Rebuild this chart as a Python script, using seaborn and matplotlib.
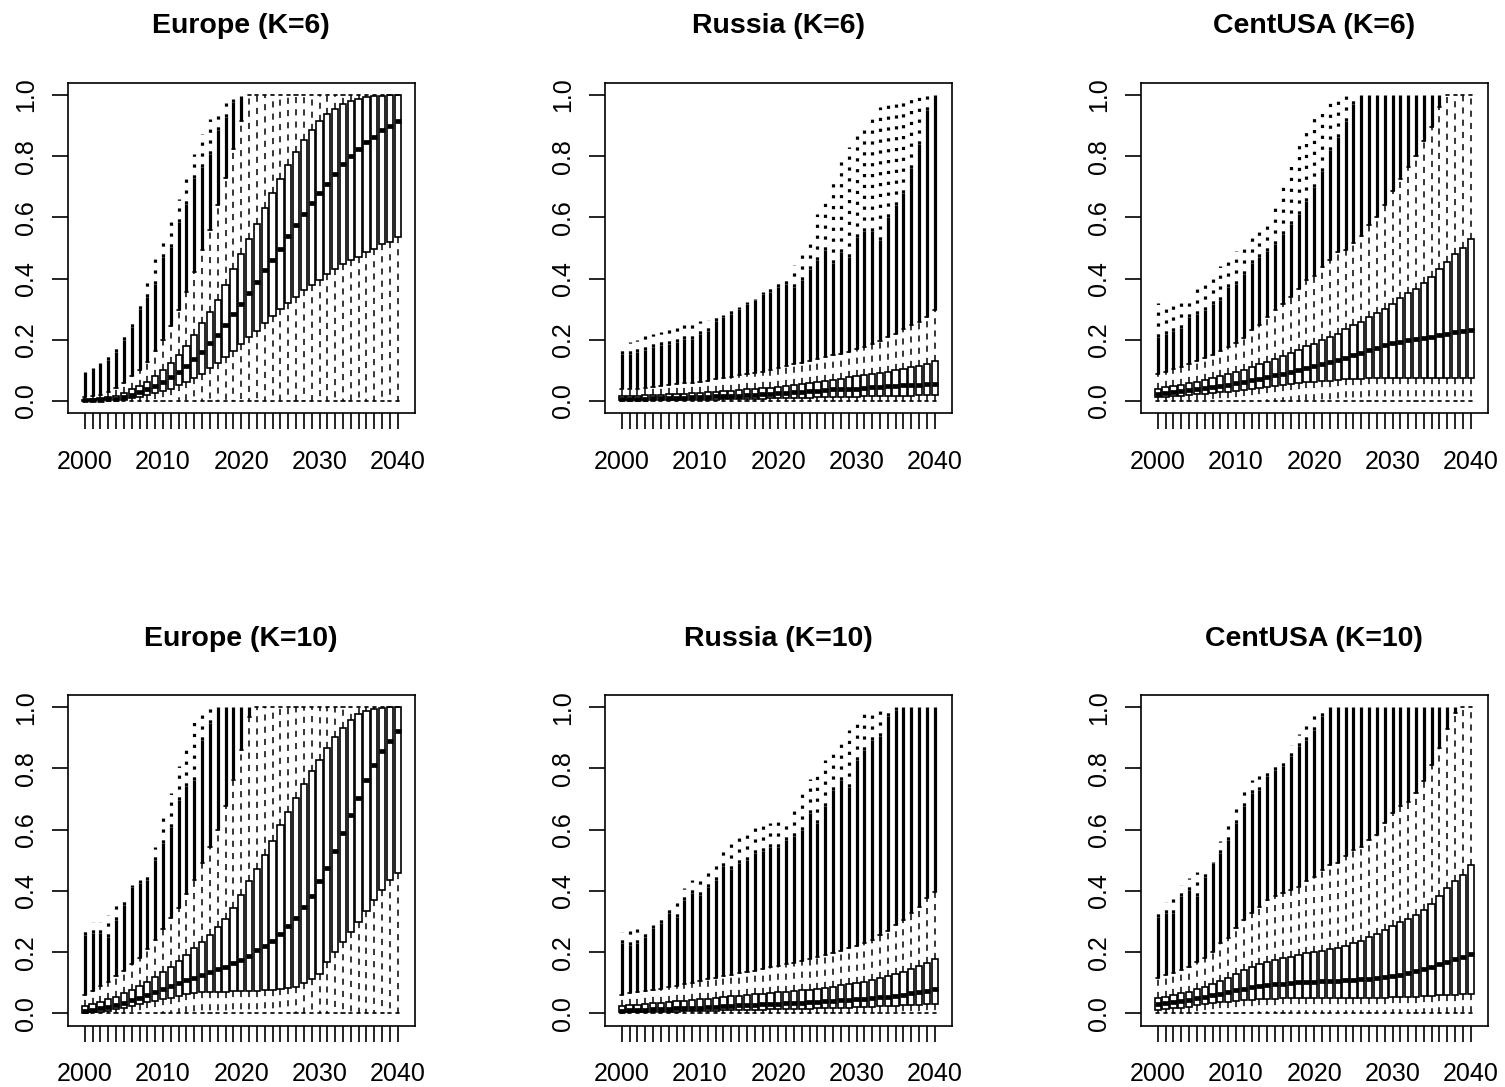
import numpy as np
import pandas as pd
import matplotlib
matplotlib.use("Agg")
import matplotlib.pyplot as plt
import seaborn as sns

# ---------------- categories ----------------
years = list(range(2000, 2041))
year_labels = [str(y) for y in years]
tick_labels = [s if int(s) % 10 == 0 else "" for s in year_labels]
y_ticks = [0.0, 0.2, 0.4, 0.6, 0.8, 1.0]
y_tick_labels = ["0.0", "0.2", "0.4", "0.6", "0.8", "1.0"]
titles = ["Europe (K=6)", "Russia (K=6)", "CentUSA (K=6)",
          "Europe (K=10)", "Russia (K=10)", "CentUSA (K=10)"]

# lower whisker (all at 0)
whisker_lo = [0.0, 0.0, 0.0, 0.0, 0.0, 0.0, 0.0, 0.0, 0.0, 0.0, 0.0, 0.0, 0.0, 0.0,
              0.0, 0.0, 0.0, 0.0, 0.0, 0.0, 0.0, 0.0, 0.0, 0.0, 0.0, 0.0, 0.0, 0.0,
              0.0, 0.0, 0.0, 0.0, 0.0, 0.0, 0.0, 0.0, 0.0, 0.0, 0.0, 0.0, 0.0]

# ---------------- Europe K=6 ----------------
eu6_q1 = [0.000, 0.001, 0.002, 0.003, 0.004, 0.005, 0.009, 0.014, 0.020, 0.027, 0.034, 0.041, 0.052, 0.063,
          0.075, 0.090, 0.109, 0.125, 0.145, 0.164, 0.188, 0.210, 0.230, 0.255, 0.277, 0.300, 0.320, 0.340,
          0.362, 0.378, 0.397, 0.416, 0.433, 0.449, 0.460, 0.470, 0.487, 0.498, 0.514, 0.520, 0.535]
eu6_med = [0.002, 0.003, 0.004, 0.006, 0.008, 0.012, 0.019, 0.028, 0.038, 0.049, 0.063, 0.079, 0.096, 0.114,
           0.137, 0.161, 0.189, 0.215, 0.248, 0.283, 0.318, 0.353, 0.389, 0.427, 0.462, 0.498, 0.539, 0.574,
           0.612, 0.647, 0.679, 0.710, 0.742, 0.773, 0.800, 0.824, 0.846, 0.864, 0.884, 0.900, 0.916]
eu6_q3 = [0.005, 0.007, 0.009, 0.013, 0.018, 0.027, 0.038, 0.049, 0.063, 0.082, 0.100, 0.123, 0.150, 0.180,
          0.215, 0.254, 0.292, 0.330, 0.380, 0.430, 0.480, 0.530, 0.580, 0.630, 0.680, 0.725, 0.772, 0.815,
          0.853, 0.886, 0.914, 0.938, 0.954, 0.970, 0.979, 0.987, 0.992, 0.997, 0.998, 0.999, 1.000]
eu6_whi = [0.012, 0.016, 0.021, 0.030, 0.042, 0.060, 0.082, 0.102, 0.128, 0.165, 0.200, 0.245, 0.297, 0.357,
           0.422, 0.492, 0.560, 0.640, 0.730, 0.824, 0.916, 1.000, 1.000, 1.000, 1.000, 1.000, 1.000, 1.000,
           1.000, 1.000, 1.000, 1.000, 1.000, 1.000, 1.000, 1.000, 1.000, 1.000, 1.000, 1.000, 1.000]
eu6_dense = [0.096, 0.107, 0.123, 0.134, 0.160, 0.200, 0.242, 0.300, 0.340, 0.384, 0.470, 0.503, 0.585, 0.645,
             0.730, 0.764, 0.808, 0.884, 0.927, 0.976, 0.998, 1.000, 1.000, 1.000, 1.000, 1.000, 1.000, 1.000,
             1.000, 1.000, 1.000, 1.000, 1.000, 1.000, 1.000, 1.000, 1.000, 1.000, 1.000, 1.000, 1.000]
eu6_max = [0.096, 0.107, 0.123, 0.155, 0.183, 0.220, 0.273, 0.331, 0.400, 0.470, 0.536, 0.596, 0.660, 0.726,
           0.808, 0.873, 0.922, 0.954, 0.973, 0.987, 0.998, 1.000, 1.000, 1.000, 1.000, 1.000, 1.000, 1.000,
           1.000, 1.000, 1.000, 1.000, 1.000, 1.000, 1.000, 1.000, 1.000, 1.000, 1.000, 1.000, 1.000]

# ---------------- Russia K=6 ----------------
ru6_q1 = [0.002, 0.002, 0.002, 0.003, 0.003, 0.003, 0.003, 0.004, 0.004, 0.004, 0.005, 0.005, 0.005, 0.006,
          0.006, 0.007, 0.007, 0.008, 0.008, 0.009, 0.009, 0.010, 0.010, 0.011, 0.011, 0.012, 0.012, 0.013,
          0.013, 0.014, 0.014, 0.015, 0.015, 0.016, 0.016, 0.017, 0.017, 0.018, 0.019, 0.019, 0.020]
ru6_med = [0.007, 0.007, 0.008, 0.008, 0.009, 0.009, 0.010, 0.010, 0.011, 0.012, 0.013, 0.014, 0.015, 0.016,
           0.017, 0.018, 0.019, 0.020, 0.022, 0.024, 0.026, 0.027, 0.029, 0.031, 0.032, 0.034, 0.036, 0.038,
           0.039, 0.040, 0.041, 0.043, 0.045, 0.046, 0.048, 0.050, 0.051, 0.053, 0.054, 0.056, 0.057]
ru6_q3 = [0.016, 0.017, 0.018, 0.019, 0.020, 0.021, 0.022, 0.023, 0.024, 0.025, 0.027, 0.029, 0.030, 0.032,
          0.034, 0.036, 0.038, 0.040, 0.042, 0.044, 0.047, 0.050, 0.053, 0.056, 0.059, 0.062, 0.065, 0.069,
          0.073, 0.077, 0.082, 0.085, 0.088, 0.092, 0.096, 0.100, 0.105, 0.110, 0.115, 0.122, 0.130]
ru6_whi = [0.038, 0.039, 0.041, 0.043, 0.047, 0.049, 0.052, 0.055, 0.058, 0.060, 0.063, 0.066, 0.071, 0.074,
           0.079, 0.084, 0.088, 0.092, 0.096, 0.103, 0.109, 0.114, 0.120, 0.125, 0.130, 0.139, 0.145, 0.150,
           0.155, 0.161, 0.170, 0.177, 0.186, 0.197, 0.210, 0.220, 0.237, 0.248, 0.259, 0.275, 0.297]
ru6_dense = [0.155, 0.155, 0.160, 0.166, 0.177, 0.183, 0.186, 0.193, 0.204, 0.204, 0.220, 0.230, 0.260, 0.275,
             0.286, 0.302, 0.318, 0.330, 0.350, 0.357, 0.373, 0.384, 0.373, 0.395, 0.433, 0.460, 0.492, 0.450,
             0.487, 0.470, 0.536, 0.557, 0.557, 0.525, 0.600, 0.640, 0.680, 0.760, 0.840, 0.950, 1.000]
ru6_max = [0.186, 0.193, 0.200, 0.212, 0.220, 0.226, 0.234, 0.240, 0.248, 0.253, 0.260, 0.266, 0.275, 0.280,
           0.297, 0.308, 0.324, 0.335, 0.357, 0.373, 0.395, 0.416, 0.443, 0.492, 0.536, 0.612, 0.668, 0.726,
           0.780, 0.830, 0.873, 0.905, 0.938, 0.960, 0.976, 0.987, 0.992, 0.996, 1.000, 1.000, 1.000]

# ---------------- CentUSA K=6 ----------------
cu6_q1 = [0.012, 0.014, 0.016, 0.018, 0.020, 0.022, 0.024, 0.026, 0.028, 0.031, 0.034, 0.037, 0.040, 0.043,
          0.046, 0.049, 0.052, 0.055, 0.058, 0.061, 0.063, 0.065, 0.067, 0.069, 0.071, 0.072, 0.073, 0.074,
          0.075, 0.075, 0.075, 0.076, 0.076, 0.076, 0.076, 0.076, 0.076, 0.076, 0.076, 0.075, 0.075]
cu6_med = [0.022, 0.026, 0.029, 0.033, 0.037, 0.041, 0.044, 0.047, 0.050, 0.054, 0.058, 0.063, 0.068, 0.073,
           0.079, 0.085, 0.090, 0.095, 0.100, 0.107, 0.114, 0.121, 0.128, 0.135, 0.142, 0.150, 0.158, 0.166,
           0.174, 0.182, 0.190, 0.194, 0.198, 0.202, 0.206, 0.210, 0.215, 0.220, 0.224, 0.228, 0.232]
cu6_q3 = [0.041, 0.045, 0.049, 0.052, 0.058, 0.063, 0.068, 0.074, 0.082, 0.088, 0.096, 0.103, 0.112, 0.120,
          0.128, 0.139, 0.148, 0.158, 0.168, 0.179, 0.188, 0.199, 0.210, 0.220, 0.234, 0.248, 0.259, 0.275,
          0.288, 0.302, 0.318, 0.337, 0.353, 0.367, 0.387, 0.405, 0.430, 0.455, 0.480, 0.500, 0.530]
cu6_whi = [0.090, 0.096, 0.104, 0.111, 0.122, 0.130, 0.141, 0.150, 0.163, 0.177, 0.190, 0.207, 0.232, 0.248,
           0.275, 0.297, 0.318, 0.340, 0.367, 0.395, 0.409, 0.438, 0.460, 0.487, 0.495, 0.515, 0.540, 0.575,
           0.600, 0.640, 0.685, 0.724, 0.764, 0.800, 0.848, 0.895, 0.960, 1.000, 1.000, 1.000, 1.000]
cu6_dense = [0.210, 0.220, 0.230, 0.240, 0.275, 0.286, 0.297, 0.318, 0.330, 0.373, 0.384, 0.416, 0.450, 0.470,
             0.490, 0.514, 0.547, 0.580, 0.610, 0.655, 0.700, 0.753, 0.820, 0.862, 0.916, 0.970, 1.000, 1.000,
             1.000, 1.000, 1.000, 1.000, 1.000, 1.000, 1.000, 1.000, 1.000, 1.000, 1.000, 1.000, 1.000]
cu6_max = [0.320, 0.320, 0.320, 0.320, 0.340, 0.365, 0.390, 0.410, 0.440, 0.465, 0.490, 0.520, 0.540, 0.565,
           0.595, 0.640, 0.710, 0.785, 0.845, 0.895, 0.938, 0.965, 0.980, 0.995, 1.000, 1.000, 1.000, 1.000,
           1.000, 1.000, 1.000, 1.000, 1.000, 1.000, 1.000, 1.000, 1.000, 1.000, 1.000, 1.000, 1.000]

# ---------------- Europe K=10 ----------------
eu10_q1 = [0.002, 0.003, 0.005, 0.009, 0.013, 0.017, 0.024, 0.031, 0.036, 0.041, 0.047, 0.051, 0.057, 0.062,
           0.065, 0.069, 0.070, 0.071, 0.071, 0.072, 0.072, 0.073, 0.074, 0.075, 0.076, 0.078, 0.082, 0.087,
           0.100, 0.113, 0.130, 0.169, 0.200, 0.234, 0.265, 0.300, 0.335, 0.370, 0.403, 0.436, 0.458]
eu10_med = [0.008, 0.011, 0.016, 0.022, 0.027, 0.035, 0.044, 0.051, 0.060, 0.071, 0.079, 0.089, 0.100, 0.109,
            0.117, 0.125, 0.134, 0.144, 0.153, 0.164, 0.174, 0.189, 0.207, 0.221, 0.237, 0.258, 0.286, 0.313,
            0.346, 0.385, 0.431, 0.474, 0.529, 0.589, 0.649, 0.703, 0.763, 0.812, 0.856, 0.891, 0.924]
eu10_q3 = [0.024, 0.030, 0.038, 0.046, 0.055, 0.065, 0.076, 0.089, 0.104, 0.118, 0.134, 0.153, 0.171, 0.191,
           0.212, 0.232, 0.256, 0.281, 0.309, 0.344, 0.387, 0.431, 0.471, 0.516, 0.564, 0.614, 0.658, 0.703,
           0.749, 0.791, 0.829, 0.867, 0.902, 0.932, 0.957, 0.978, 0.989, 0.995, 0.998, 1.000, 1.000]
eu10_whi = [0.060, 0.072, 0.090, 0.104, 0.122, 0.140, 0.160, 0.180, 0.210, 0.240, 0.275, 0.310, 0.345, 0.390,
            0.436, 0.490, 0.545, 0.600, 0.676, 0.763, 0.860, 0.967, 1.000, 1.000, 1.000, 1.000, 1.000, 1.000,
            1.000, 1.000, 1.000, 1.000, 1.000, 1.000, 1.000, 1.000, 1.000, 1.000, 1.000, 1.000, 1.000]
eu10_dense = [0.256, 0.262, 0.262, 0.250, 0.305, 0.354, 0.414, 0.425, 0.436, 0.500, 0.556, 0.610, 0.698, 0.742,
              0.763, 0.894, 0.949, 1.000, 1.000, 1.000, 1.000, 1.000, 1.000, 1.000, 1.000, 1.000, 1.000, 1.000,
              1.000, 1.000, 1.000, 1.000, 1.000, 1.000, 1.000, 1.000, 1.000, 1.000, 1.000, 1.000, 1.000]
eu10_max = [0.289, 0.300, 0.300, 0.322, 0.360, 0.387, 0.420, 0.436, 0.463, 0.545, 0.638, 0.720, 0.807, 0.878,
            0.954, 0.987, 0.998, 1.000, 1.000, 1.000, 1.000, 1.000, 1.000, 1.000, 1.000, 1.000, 1.000, 1.000,
            1.000, 1.000, 1.000, 1.000, 1.000, 1.000, 1.000, 1.000, 1.000, 1.000, 1.000, 1.000, 1.000]

# ---------------- Russia K=10 ----------------
ru10_q1 = [0.003, 0.003, 0.004, 0.004, 0.005, 0.005, 0.006, 0.006, 0.007, 0.007, 0.008, 0.009, 0.009, 0.010,
           0.010, 0.011, 0.011, 0.012, 0.012, 0.013, 0.013, 0.014, 0.014, 0.015, 0.015, 0.016, 0.016, 0.017,
           0.018, 0.019, 0.020, 0.021, 0.022, 0.023, 0.024, 0.025, 0.026, 0.027, 0.028, 0.030, 0.031]
ru10_med = [0.009, 0.010, 0.011, 0.012, 0.013, 0.014, 0.015, 0.016, 0.017, 0.018, 0.019, 0.021, 0.022, 0.023,
            0.024, 0.026, 0.027, 0.028, 0.029, 0.031, 0.032, 0.033, 0.034, 0.035, 0.036, 0.038, 0.039, 0.040,
            0.042, 0.044, 0.046, 0.048, 0.050, 0.052, 0.055, 0.058, 0.061, 0.065, 0.069, 0.073, 0.078]
ru10_q3 = [0.025, 0.027, 0.028, 0.031, 0.033, 0.035, 0.037, 0.039, 0.041, 0.044, 0.046, 0.048, 0.051, 0.053,
           0.056, 0.058, 0.060, 0.062, 0.064, 0.067, 0.069, 0.071, 0.073, 0.075, 0.077, 0.081, 0.084, 0.087,
           0.091, 0.095, 0.098, 0.104, 0.109, 0.115, 0.122, 0.129, 0.136, 0.145, 0.156, 0.166, 0.177]
ru10_whi = [0.060, 0.065, 0.069, 0.073, 0.076, 0.081, 0.085, 0.089, 0.095, 0.100, 0.106, 0.112, 0.117, 0.122,
            0.126, 0.131, 0.135, 0.140, 0.144, 0.151, 0.155, 0.161, 0.166, 0.171, 0.177, 0.183, 0.190, 0.198,
            0.205, 0.213, 0.221, 0.229, 0.241, 0.256, 0.270, 0.289, 0.305, 0.327, 0.349, 0.376, 0.398]
ru10_dense = [0.229, 0.224, 0.229, 0.250, 0.278, 0.294, 0.327, 0.316, 0.371, 0.393, 0.387, 0.414, 0.436, 0.480,
              0.470, 0.491, 0.502, 0.523, 0.529, 0.545, 0.545, 0.567, 0.578, 0.600, 0.654, 0.622, 0.676, 0.731,
              0.763, 0.740, 0.829, 0.861, 0.894, 0.905, 0.970, 0.990, 1.000, 1.000, 1.000, 1.000, 1.000]
ru10_max = [0.265, 0.270, 0.275, 0.281, 0.289, 0.322, 0.349, 0.376, 0.409, 0.436, 0.453, 0.474, 0.502, 0.529,
            0.556, 0.578, 0.594, 0.605, 0.614, 0.622, 0.624, 0.627, 0.676, 0.731, 0.766, 0.796, 0.829, 0.856,
            0.900, 0.927, 0.960, 0.981, 0.992, 0.998, 1.000, 1.000, 1.000, 1.000, 1.000, 1.000, 1.000]

# ---------------- CentUSA K=10 ----------------
cu10_q1 = [0.011, 0.013, 0.016, 0.019, 0.022, 0.027, 0.030, 0.033, 0.036, 0.038, 0.040, 0.042, 0.044, 0.046,
           0.047, 0.048, 0.049, 0.049, 0.049, 0.049, 0.049, 0.049, 0.049, 0.049, 0.049, 0.049, 0.050, 0.050,
           0.051, 0.051, 0.052, 0.053, 0.054, 0.055, 0.057, 0.058, 0.059, 0.060, 0.061, 0.062, 0.062]
cu10_med = [0.030, 0.033, 0.037, 0.041, 0.045, 0.049, 0.054, 0.059, 0.064, 0.070, 0.076, 0.081, 0.085, 0.089,
            0.092, 0.095, 0.097, 0.099, 0.101, 0.103, 0.104, 0.105, 0.106, 0.107, 0.108, 0.109, 0.111, 0.113,
            0.115, 0.118, 0.122, 0.126, 0.131, 0.137, 0.144, 0.152, 0.160, 0.168, 0.176, 0.185, 0.195]
cu10_q3 = [0.051, 0.055, 0.060, 0.065, 0.071, 0.079, 0.087, 0.096, 0.107, 0.117, 0.129, 0.142, 0.153, 0.161,
           0.169, 0.174, 0.180, 0.185, 0.191, 0.196, 0.202, 0.205, 0.209, 0.215, 0.221, 0.229, 0.238, 0.249,
           0.260, 0.273, 0.284, 0.297, 0.309, 0.322, 0.338, 0.358, 0.384, 0.409, 0.431, 0.453, 0.485]
cu10_whi = [0.115, 0.125, 0.131, 0.142, 0.153, 0.169, 0.180, 0.202, 0.229, 0.245, 0.278, 0.305, 0.327, 0.349,
            0.371, 0.382, 0.393, 0.403, 0.414, 0.431, 0.447, 0.469, 0.485, 0.491, 0.513, 0.534, 0.545, 0.567,
            0.583, 0.622, 0.654, 0.676, 0.690, 0.720, 0.758, 0.810, 0.867, 0.930, 0.980, 1.000, 1.000]
cu10_dense = [0.316, 0.327, 0.327, 0.382, 0.403, 0.382, 0.447, 0.491, 0.523, 0.567, 0.622, 0.676, 0.720, 0.731,
              0.774, 0.796, 0.807, 0.840, 0.872, 0.894, 0.927, 0.970, 1.000, 1.000, 1.000, 1.000, 1.000, 1.000,
              1.000, 1.000, 1.000, 1.000, 1.000, 1.000, 1.000, 1.000, 1.000, 1.000, 1.000, 1.000, 1.000]
cu10_max = [0.338, 0.365, 0.393, 0.420, 0.442, 0.463, 0.474, 0.496, 0.562, 0.627, 0.682, 0.725, 0.763, 0.791,
            0.807, 0.818, 0.829, 0.878, 0.911, 0.954, 0.987, 0.998, 1.000, 1.000, 1.000, 1.000, 1.000, 1.000,
            1.000, 1.000, 1.000, 1.000, 1.000, 1.000, 1.000, 1.000, 1.000, 1.000, 1.000, 1.000, 1.000]

panels = [
    (eu6_q1, eu6_med, eu6_q3, eu6_whi, eu6_dense, eu6_max),
    (ru6_q1, ru6_med, ru6_q3, ru6_whi, ru6_dense, ru6_max),
    (cu6_q1, cu6_med, cu6_q3, cu6_whi, cu6_dense, cu6_max),
    (eu10_q1, eu10_med, eu10_q3, eu10_whi, eu10_dense, eu10_max),
    (ru10_q1, ru10_med, ru10_q3, ru10_whi, ru10_dense, ru10_max),
    (cu10_q1, cu10_med, cu10_q3, cu10_whi, cu10_dense, cu10_max),
]

# ---------------- style ----------------
sns.set_style("white")
plt.rcParams["font.family"] = ["Liberation Sans", "DejaVu Sans"]
plt.rcParams["axes.edgecolor"] = "black"
plt.rcParams["axes.linewidth"] = 1.2
plt.rcParams["text.color"] = "black"
plt.rcParams["axes.titlecolor"] = "black"
plt.rcParams["xtick.color"] = "black"
plt.rcParams["ytick.color"] = "black"

fig = plt.figure(figsize=(15.05, 10.87), dpi=100)
W, H = 1505.0, 1087.0
col_left = [68.0, 605.0, 1141.0]
row_top = [82.7, 695.0]
ax_w, ax_h = 346.5, 330.6


def box_frame(q1, med, q3, whi):
    rows = []
    for i, lab in enumerate(year_labels):
        vals = sorted([whisker_lo[i], q1[i], med[i], q3[i], whi[i]])
        for v in vals:
            rows.append((lab, v))
    return pd.DataFrame(rows, columns=["year", "share"])


for k, (title, data) in enumerate(zip(titles, panels)):
    q1, med, q3, whi, dense, omax = data
    r, c = divmod(k, 3)
    ax = fig.add_axes([col_left[c] / W, 1 - (row_top[r] + ax_h) / H, ax_w / W, ax_h / H])
    df = box_frame(q1, med, q3, whi)
    sns.boxplot(data=df, x="year", y="share", order=year_labels, whis=(0, 100),
                width=0.8, color="white", saturation=1, linecolor="black", linewidth=1.2,
                fill=True, showfliers=False,
                medianprops=dict(linewidth=3.4, color="black", solid_capstyle="butt"),
                whiskerprops=dict(linestyle=(0, (4, 4)), linewidth=1.1, color="black"),
                capprops=dict(linewidth=1.2, color="black"),
                ax=ax)
    # outlier columns (dense part solid, sparse part dotted)
    for i in range(len(years)):
        lo = whi[i]
        d = max(dense[i], lo)
        m = max(omax[i], d)
        if d > lo + 1e-9:
            ax.vlines(i, lo, d, colors="black", linewidth=2.3, zorder=4)
        if m > d + 1e-9:
            ax.vlines(i, d, m, colors="black", linewidth=2.3, linestyles=(0, (1, 2.4)), zorder=4)

    ax.set_xlim(-2.14, 42.14)
    ax.set_ylim(-0.04, 1.04)
    ax.set_xlabel("")
    ax.set_ylabel("")
    ax.set_xticks(range(len(years)))
    ax.set_xticklabels(tick_labels)
    ax.set_yticks(y_ticks)
    ax.set_yticklabels(y_tick_labels)
    ax.tick_params(axis="both", direction="out", length=11.5, width=1.2, color="black",
                   labelsize=18, labelcolor="black", bottom=True, left=True)
    ax.tick_params(axis="x", pad=15)
    ax.tick_params(axis="y", pad=10)
    for lbl in ax.get_yticklabels():
        lbl.set_rotation(90)
        lbl.set_va("center")
        lbl.set_ha("right")
    for sp in ax.spines.values():
        sp.set_visible(True)
        sp.set_color("black")
        sp.set_linewidth(1.2)
    ax.set_title(title, fontsize=20.5, fontweight="bold", pad=35.5, color="black")

fig.savefig("out.png", dpi=100)
